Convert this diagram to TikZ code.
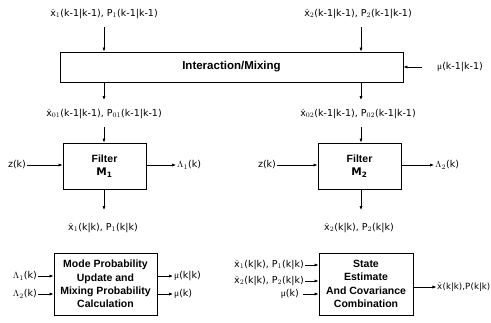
\documentclass[tikz,border=0pt]{standalone}
\usepackage{fontspec}
\setmainfont{DejaVu Sans}
\newfontfamily\boxfont{Liberation Sans}
\newfontfamily\sr{Liberation Serif}
\usetikzlibrary{arrows.meta}
\newcommand{\xh}[1]{$\hat{\mathrm{x}}_{#1}$}
\newcommand{\Pp}[1]{$\mathrm{P}_{#1}$}
\newcommand{\mmu}{{\sr μ}}
\begin{document}
\begin{tikzpicture}[x=1pt,y=-1pt,
  blk/.style={draw,line width=0.9pt,align=center,font=\boxfont\bfseries\fontsize{10.5}{13.4}\selectfont,inner sep=0pt},
  lab/.style={font=\fontsize{9.5}{11}\selectfont,inner sep=1pt},
  arr/.style={-{Latex[length=4pt,width=3.2pt]},line width=0.7pt}]
\useasboundingbox (0,0) rectangle (491,322);
% Interaction box
\node[blk,minimum width=343pt,minimum height=30pt,font=\boxfont\bfseries\fontsize{11.5}{13}\selectfont] (inter) at (231.5,67) {Interaction/Mixing};
\node[lab] (t1) at (104,14) {\xh{1}(k-1|k-1), \Pp{1}(k-1|k-1)};
\node[lab] (t2) at (358,14) {\xh{2}(k-1|k-1), \Pp{2}(k-1|k-1)};
\coordinate (t1s) at (104,27);
\coordinate (t2s) at (361,27);
\draw[arr] (t1s) -- (t1s |- inter.north);
\draw[arr] (t2s) -- (t2s |- inter.north);
\node[lab,anchor=west] (mu0) at (436,67) {\mmu(k-1|k-1)};
\draw[arr] ([xshift=-14pt]mu0.west) -- (inter.east);
% mixed outputs
\node[lab] (m1) at (104,114) {\xh{01}(k-1|k-1), \Pp{01}(k-1|k-1)};
\node[lab] (m2) at (358,114) {\xh{02}(k-1|k-1), \Pp{02}(k-1|k-1)};
\coordinate (b1) at (104,100);
\coordinate (b2) at (361,100);
\draw[arr] (b1 |- inter.south) -- (b1);
\draw[arr] (b2 |- inter.south) -- (b2);
% Filters
\node[blk,minimum width=83pt,minimum height=46pt] (f1) at (104.5,166) {Filter\\$\mathbf{M}_{\mathbf{1}}$};
\node[blk,minimum width=83pt,minimum height=46pt] (f2) at (359.5,166) {Filter\\$\mathbf{M}_{\mathbf{2}}$};
\coordinate (c1) at (104,127);
\coordinate (c2) at (361,127);
\draw[arr] (c1) -- (c1 |- f1.north);
\draw[arr] (c2) -- (c2 |- f2.north);
\node[lab] (z1) at (17,165) {z(k)};
\node[lab] (z2) at (267,165) {z(k)};
\draw[arr] (z1.east) -- (z1.east -| f1.west);
\draw[arr] (z2.east) -- (z2.east -| f2.west);
\node[lab,anchor=west] (L1) at (176,165) {$\Lambda_1$(k)};
\node[lab,anchor=west] (L2) at (434,165) {$\Lambda_2$(k)};
\draw[arr] (f1.east |- L1.west) -- (L1.west);
\draw[arr] (f2.east |- L2.west) -- (L2.west);
\coordinate (d1) at (104,210);
\coordinate (d2) at (361,210);
\draw[arr] (d1 |- f1.south) -- (d1);
\draw[arr] (d2 |- f2.south) -- (d2);
\node[lab] (o1) at (103,228) {\xh{1}(k|k), \Pp{1}(k|k)};
\node[lab] (o2) at (359,228) {\xh{2}(k|k), \Pp{2}(k|k)};
% Mode probability box
\node[blk,minimum width=103pt,minimum height=62pt] (mp) at (105.5,284) {Mode Probability\\Update and\\Mixing Probability\\Calculation};
\node[lab,anchor=east] (ml1) at (38,276) {$\Lambda_1$(k)};
\node[lab,anchor=east] (ml2) at (38,294) {$\Lambda_2$(k)};
\draw[arr] (ml1.east) -- (ml1.east -| mp.west);
\draw[arr] (ml2.east) -- (ml2.east -| mp.west);
\node[lab,anchor=west] (mo1) at (173,276) {\mmu(k|k)};
\node[lab,anchor=west] (mo2) at (173,294) {\mmu(k)};
\draw[arr] (mp.east |- mo1.west) -- (mo1.west);
\draw[arr] (mp.east |- mo2.west) -- (mo2.west);
% State estimate box
\node[blk,minimum width=94pt,minimum height=62pt] (se) at (366,284) {State\\Estimate\\And Covariance\\Combination};
\node[lab,anchor=east] (si1) at (305,265) {\xh{1}(k|k), \Pp{1}(k|k)};
\node[lab,anchor=east] (si2) at (305,281) {\xh{2}(k|k), \Pp{2}(k|k)};
\node[lab,anchor=east] (si3) at (300,294) {\mmu(k)};
\draw[arr] (si1.east) -- (si1.east -| se.west);
\draw[arr] (si2.east) -- (si2.east -| se.west);
\draw[arr] ([xshift=3pt]si3.east) -- (si3.east -| se.west);
\node[lab,anchor=east,inner sep=0.5pt,font=\fontsize{8.6}{10}\selectfont] (so) at (491,287) {\xh{}(k|k),\Pp{}(k|k)};
\draw[arr] (se.east |- so.west) -- (so.west);
\end{tikzpicture}
\end{document}
